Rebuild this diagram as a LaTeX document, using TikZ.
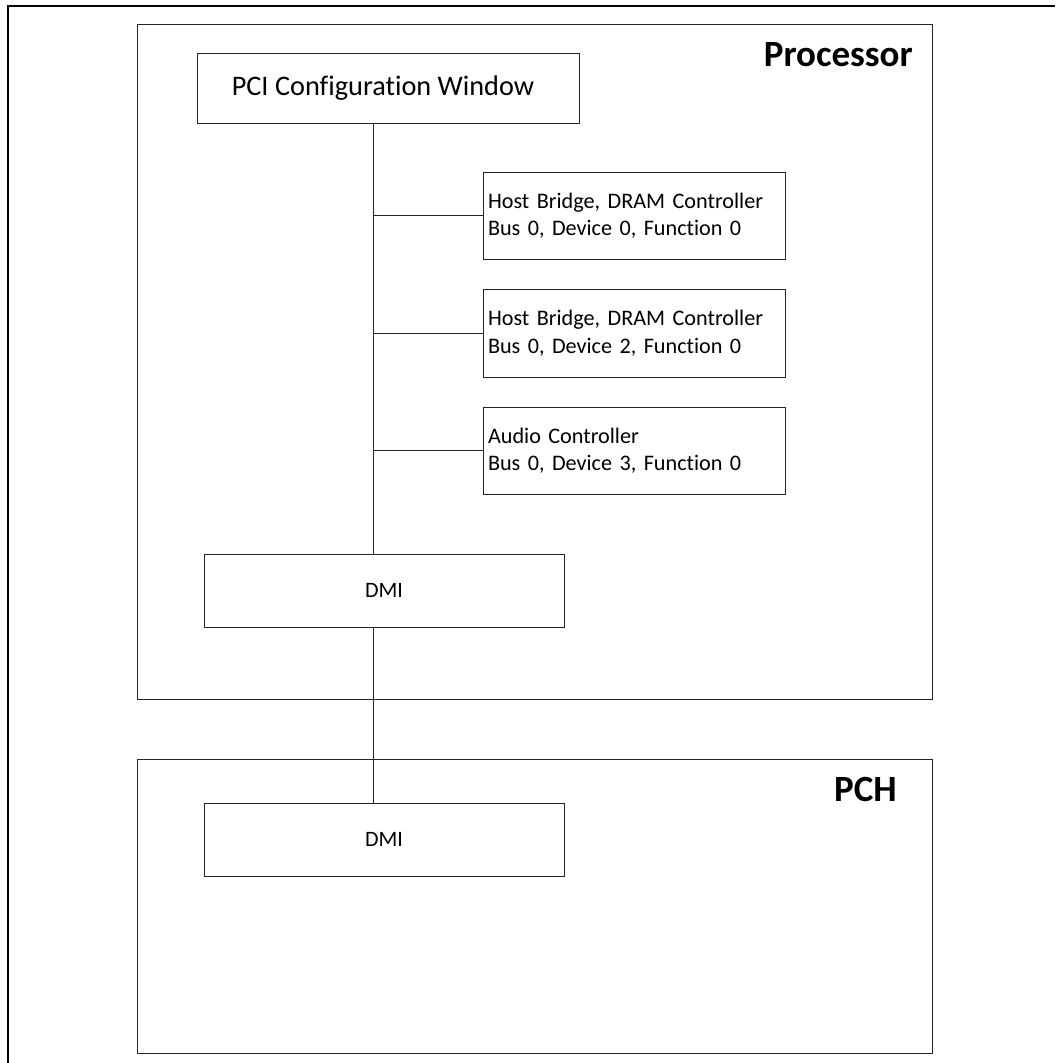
\documentclass[tikz,border=0pt]{standalone}
\usepackage{fontspec}
\setmainfont{Carlito}[Ligatures={NoCommon}]
\begin{document}
\begin{tikzpicture}[x=1pt,y=-1pt,
  region/.style={draw=black!85, line width=1pt, rectangle, inner sep=0pt, outer sep=0pt, anchor=north west},
  box/.style={draw=black!85, line width=1pt, rectangle, inner sep=0pt, outer sep=0pt, anchor=north west},
  devbox/.style={box, minimum width=302, align=left, text width=292, inner xsep=5pt, font=\fontsize{22.2}{27.5}\selectfont},
  dmibox/.style={box, minimum width=360, minimum height=73, font=\fontsize{22}{26}\selectfont},
  lbl/.style={font=\fontsize{37}{40}\selectfont\bfseries, inner sep=0pt, anchor=base east},
  wire/.style={draw=black!85, line width=1pt}]
\useasboundingbox (0,0) rectangle (1055,1063);
\draw[line width=2pt] (8,1063) -- (8,6) -- (1055,6);

\node[region, minimum width=795, minimum height=675] (proc) at (137,24) {};
\node[region, minimum width=795, minimum height=294] (pch) at (137,759) {};
\node[lbl] (proclbl) at (913,66) {Processor};
\node[lbl] (pchlbl) at (897,801) {PCH};

\node[box, minimum width=382, minimum height=70, font=\fontsize{28.3}{33}\selectfont] (pci) at (197,53) {PCI Configuration Window\kern10pt};
\node[devbox, minimum height=87] (b1) at (483,172) {Host Bridge, DRAM Controller\\Bus 0, Device 0, Function 0};
\node[devbox, minimum height=88] (b2) at (483,289) {Host Bridge, DRAM Controller\\Bus 0, Device 2, Function 0};
\node[devbox, minimum height=87] (b3) at (483,407) {Audio Controller\\Bus 0, Device 3, Function 0};
\node[dmibox] (dmi1) at (204,554) {DMI};
\node[dmibox] (dmi2) at (204,803) {DMI};

\coordinate (bus) at (373,0);
\draw[wire] (pci.south -| bus) -- (dmi1.north -| bus);
\draw[wire] (b1.west) -- (b1.west -| bus);
\draw[wire] (b2.west) -- (b2.west -| bus);
\draw[wire] (b3.west) -- (b3.west -| bus);
\draw[wire] (dmi1.south -| bus) -- (dmi2.north -| bus);
\end{tikzpicture}
\end{document}
